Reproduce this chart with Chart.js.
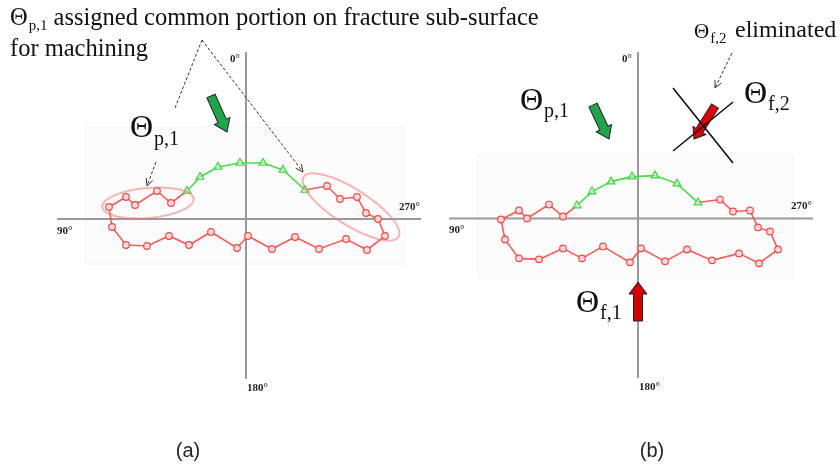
<!DOCTYPE html>
<html>
<head>
<meta charset="utf-8">
<script src="https://cdn.jsdelivr.net/npm/chart.js@4/dist/chart.umd.min.js"></script>
<style>
  html, body { margin: 0; padding: 0; background: #fff; }
  #wrap { position: relative; width: 840px; height: 466px; }
  canvas { position: absolute; left: 0; top: 0; }
</style>
</head>
<body>
<div id="wrap">
  <canvas id="chartA" width="840" height="466"></canvas>
  <canvas id="chartB" width="840" height="466"></canvas>
</div>
<script>
// axis range (same units for both panels)
const xRange = [-189, 175];
const yRange = [-160, 167];

// panel (a): profile points [x, y]
const greenA = [[-59, 28], [-46, 42], [-28, 52], [-6, 56], [17, 56], [37, 49], [59, 29]];
const redA = [[59, 29], [81, 33], [94, 20], [111, 22], [120, 6], [132, 0], [139, -17], [121, -31],
  [100, -20], [73, -30], [49, -18], [26, -30], [2, -17], [-9, -29], [-35, -13], [-57, -26],
  [-77, -17], [-99, -27], [-120, -26], [-134, -8], [-137, 12], [-120, 22], [-111, 14],
  [-89, 28], [-75, 16], [-59, 28]];

// panel (b)
const greenB = [[-61, 13], [-46, 27], [-27, 37], [-6, 42], [17, 43], [39, 35], [60, 16]];
const redB = [[60, 16], [82, 19], [95, 7], [112, 8], [120, -9], [132, -13], [140, -31], [121, -45],
  [101, -35], [74, -42], [49, -31], [27, -43], [3, -30], [-8, -44], [-35, -28], [-56, -40],
  [-75, -30], [-99, -41], [-119, -40], [-133, -21], [-137, -1], [-119, 8], [-111, 0],
  [-89, 14], [-75, 2], [-61, 13]];

// axis labels
const axisLabels = ['0\u00b0', '90\u00b0', '180\u00b0', '270\u00b0'];

const toXY = arr => arr.map(p => ({ x: p[0], y: p[1] }));
const SERIF = '"Liberation Serif", "Times New Roman", serif';

function datasets(green, red) {
  return [{
    data: toXY(green),
    showLine: true,
    borderColor: '#46dd46',
    borderWidth: 1.6,
    pointStyle: 'triangle',
    pointRadius: 4.5,
    pointBorderColor: '#3bd63b',
    pointBackgroundColor: 'rgba(220,255,220,0.6)',
    pointBorderWidth: 1.2
  }, {
    data: toXY(red),
    showLine: true,
    borderColor: 'rgba(255,70,70,0.9)',
    borderWidth: 1.6,
    pointStyle: 'circle',
    pointRadius: ctx => (ctx.dataIndex === 0 || ctx.dataIndex === red.length - 1) ? 0 : 3.3,
    pointBorderColor: '#ff4444',
    pointBackgroundColor: 'rgba(255,225,225,0.9)',
    pointBorderWidth: 1.2
  }];
}

// ---- drawing helpers for the annotations ----
function blockArrow(ctx, x1, y1, x2, y2, shaftW, headW, headL, fill) {
  const ang = Math.atan2(y2 - y1, x2 - x1);
  const len = Math.hypot(x2 - x1, y2 - y1);
  ctx.save();
  ctx.translate(x1, y1);
  ctx.rotate(ang);
  ctx.beginPath();
  ctx.moveTo(0, -shaftW / 2);
  ctx.lineTo(len - headL, -shaftW / 2);
  ctx.lineTo(len - headL, -headW / 2);
  ctx.lineTo(len, 0);
  ctx.lineTo(len - headL, headW / 2);
  ctx.lineTo(len - headL, shaftW / 2);
  ctx.lineTo(0, shaftW / 2);
  ctx.closePath();
  ctx.fillStyle = fill;
  ctx.fill();
  ctx.strokeStyle = '#222';
  ctx.lineWidth = 1;
  ctx.stroke();
  ctx.restore();
}

function dashLine(ctx, x1, y1, x2, y2, head) {
  ctx.save();
  ctx.strokeStyle = '#333';
  ctx.lineWidth = 1;
  ctx.setLineDash([3, 2]);
  ctx.beginPath();
  ctx.moveTo(x1, y1);
  ctx.lineTo(x2, y2);
  ctx.stroke();
  if (head) {
    ctx.setLineDash([]);
    const a = Math.atan2(y2 - y1, x2 - x1);
    ctx.beginPath();
    ctx.moveTo(x2 - 8 * Math.cos(a - 0.45), y2 - 8 * Math.sin(a - 0.45));
    ctx.lineTo(x2, y2);
    ctx.lineTo(x2 - 8 * Math.cos(a + 0.45), y2 - 8 * Math.sin(a + 0.45));
    ctx.stroke();
  }
  ctx.restore();
}

function theta(ctx, x, y, size, sub, subSize, subDy) {
  ctx.font = size + 'px ' + SERIF;
  ctx.fillText('\u0398', x, y);
  const w = ctx.measureText('\u0398').width;
  ctx.font = subSize + 'px ' + SERIF;
  ctx.fillText(sub, x + w + 1, y + subDy);
  return x + w + 1 + ctx.measureText(sub).width;
}

function ellipse(ctx, cx, cy, rx, ry, rot) {
  ctx.save();
  ctx.strokeStyle = 'rgba(240,120,120,0.55)';
  ctx.lineWidth = 2;
  ctx.beginPath();
  ctx.ellipse(cx, cy, rx, ry, rot, 0, Math.PI * 2);
  ctx.stroke();
  ctx.restore();
}

// axes through the origin + degree labels + panel letter
function axesPlugin(letter, faintBox) {
  return {
    id: 'cross' + letter,
    beforeDatasetsDraw(chart) {
      const { ctx, chartArea: ca, scales: { x, y } } = chart;
      const x0 = x.getPixelForValue(0), y0 = y.getPixelForValue(0);
      ctx.save();
      ctx.fillStyle = 'rgba(0,0,0,0.012)';
      ctx.strokeStyle = 'rgba(0,0,0,0.04)';
      ctx.fillRect(faintBox[0], faintBox[1], faintBox[2] - faintBox[0], faintBox[3] - faintBox[1]);
      ctx.strokeRect(faintBox[0], faintBox[1], faintBox[2] - faintBox[0], faintBox[3] - faintBox[1]);
      ctx.strokeStyle = '#9a9a9a';
      ctx.lineWidth = 2;
      ctx.beginPath();
      ctx.moveTo(ca.left, y0); ctx.lineTo(ca.right, y0);
      ctx.moveTo(x0, ca.top); ctx.lineTo(x0, ca.bottom);
      ctx.stroke();
      ctx.fillStyle = '#222';
      ctx.font = 'bold 11px ' + SERIF;
      ctx.textBaseline = 'middle';
      ctx.textAlign = 'right';
      ctx.fillText(axisLabels[0], x0 - 6, ca.top + 7);
      ctx.textAlign = 'left';
      ctx.fillText(axisLabels[1], ca.left, y0 + 12);
      ctx.fillText(axisLabels[2], x0 + 1, ca.bottom + 9);
      ctx.textAlign = 'right';
      ctx.fillText(axisLabels[3], ca.right - 1, y0 - 12);
      ctx.textAlign = 'center';
      ctx.textBaseline = 'alphabetic';
      ctx.font = '20px "Liberation Sans", Arial, sans-serif';
      ctx.fillText(letter, x0 - 58 + (letter === '(b)' ? 72 : 0), 457);
      ctx.restore();
    }
  };
}

const notesA = {
  id: 'notesA',
  afterDraw(chart) {
    const ctx = chart.ctx;
    ctx.save();
    ctx.fillStyle = '#111';
    ctx.textBaseline = 'alphabetic';
    let x = theta(ctx, 10, 25, 24.5, 'p,1', 15, 5);
    ctx.font = '24.5px ' + SERIF;
    ctx.fillText(' assigned common portion on fracture sub-surface', x, 25);
    ctx.fillText('for machining', 10, 56);
    theta(ctx, 130, 137, 32, 'p,1', 20, 8);
    dashLine(ctx, 202, 40, 175, 108, false);
    dashLine(ctx, 202, 40, 303, 172, true);
    dashLine(ctx, 156, 162, 147, 186, true);
    ellipse(ctx, 148, 203, 46, 15, -0.09);
    ellipse(ctx, 351, 207, 56, 18, 0.565);
    blockArrow(ctx, 211, 96, 227, 132, 9, 17, 12, '#1fa64a');
    ctx.restore();
  }
};

const notesB = {
  id: 'notesB',
  afterDraw(chart) {
    const ctx = chart.ctx;
    ctx.save();
    ctx.fillStyle = '#111';
    theta(ctx, 520, 110, 32, 'p,1', 20, 7);
    blockArrow(ctx, 593, 105, 609, 139, 9, 17, 12, '#1fa64a');
    theta(ctx, 694, 38, 21, 'f,2', 15, 5);
    ctx.font = '24px ' + SERIF;
    ctx.fillText('eliminated', 735, 37);
    dashLine(ctx, 732, 53, 715, 88, true);
    theta(ctx, 744, 103, 32, 'f,2', 20, 7);
    theta(ctx, 576, 312, 32, 'f,1', 20, 7);
    blockArrow(ctx, 715, 106, 694, 139, 8, 15, 10, '#e30000');
    ctx.strokeStyle = '#111';
    ctx.lineWidth = 1.6;
    ctx.beginPath();
    ctx.moveTo(673, 88); ctx.lineTo(733, 163);
    ctx.moveTo(733, 102); ctx.lineTo(673, 151);
    ctx.stroke();
    blockArrow(ctx, 638, 321, 638, 282, 9, 18, 12, '#d40000');
    ctx.restore();
  }
};

function makeChart(id, green, red, pad, plugins) {
  return new Chart(document.getElementById(id), {
    type: 'scatter',
    data: { datasets: datasets(green, red) },
    options: {
      responsive: false,
      animation: false,
      layout: { padding: pad },
      plugins: { legend: { display: false }, tooltip: { enabled: false } },
      scales: {
        x: { type: 'linear', min: xRange[0], max: xRange[1], display: false },
        y: { type: 'linear', min: yRange[0], max: yRange[1], display: false }
      }
    },
    plugins: plugins
  });
}

makeChart('chartA', greenA, redA, { left: 57, right: 419, top: 52, bottom: 87 },
  [axesPlugin('(a)', [85, 127, 405, 264]), notesA]);
makeChart('chartB', greenB, redB, { left: 449, right: 27, top: 52, bottom: 88 },
  [axesPlugin('(b)', [478, 155, 793, 278]), notesB]);
</script>
</body>
</html>
